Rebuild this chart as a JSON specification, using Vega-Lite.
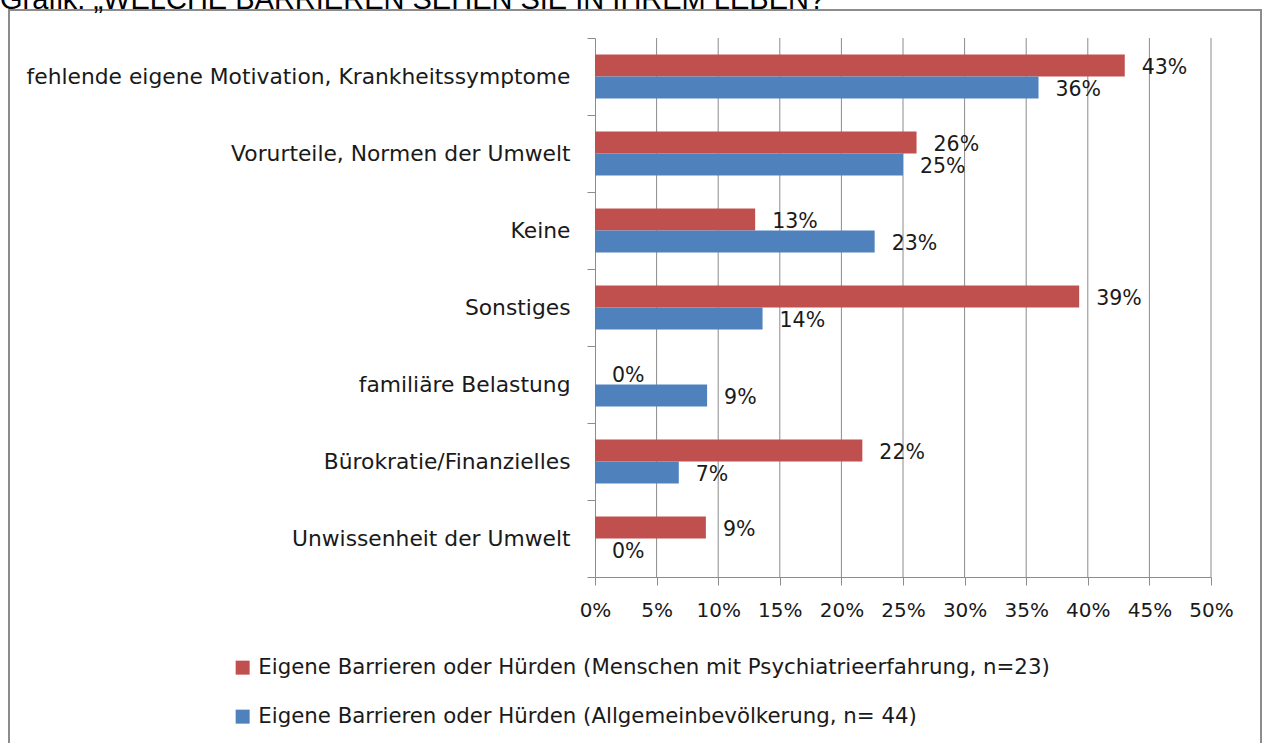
{
  "$schema": "https://vega.github.io/schema/vega-lite/v6.json",
  "width": 1252,
  "height": 745,
  "autosize": "none",
  "padding": {"left": 9, "top": 10, "right": 3, "bottom": 0},
  "background": "white",
  "title": {
    "text": "Grafik: „WELCHE BARRIEREN SEHEN SIE IN IHREM LEBEN?",
    "anchor": "start",
    "frame": "group",
    "dx": -9,
    "offset": -15,
    "font": "Liberation Sans",
    "fontSize": 29,
    "fontWeight": "normal",
    "color": "#000000"
  },
  "config": {
    "view": {"stroke": "#8c8c8c", "strokeWidth": 2},
    "font": "DejaVu Sans",
    "text": {"color": "#1a1a1a"},
    "axisX": {
      "offset": -178,
      "grid": false,
      "domainColor": "#8c8c8c",
      "tickColor": "#8c8c8c",
      "tickSize": 8,
      "labelPadding": 15,
      "labelFontSize": 20,
      "labelColor": "#1a1a1a",
      "labelFont": "DejaVu Sans",
      "labelOverlap": false,
      "labelFlush": false
    },
    "axisY": {
      "offset": -586,
      "grid": false,
      "domainColor": "#8c8c8c",
      "tickColor": "#8c8c8c",
      "tickSize": 8,
      "labelPadding": 17,
      "labelFontSize": 21.8,
      "labelColor": "#1a1a1a",
      "labelFont": "DejaVu Sans",
      "labelLimit": 600,
      "labelOverlap": false
    }
  },
  "datasets": {
    "bars": [
      {"category": "fehlende eigene Motivation, Krankheitssymptome", "series": "Eigene Barrieren oder Hürden (Menschen mit Psychiatrieerfahrung, n=23)", "value": 0.43},
      {"category": "fehlende eigene Motivation, Krankheitssymptome", "series": "Eigene Barrieren oder Hürden (Allgemeinbevölkerung, n= 44)", "value": 0.36},
      {"category": "Vorurteile, Normen der Umwelt", "series": "Eigene Barrieren oder Hürden (Menschen mit Psychiatrieerfahrung, n=23)", "value": 0.261},
      {"category": "Vorurteile, Normen der Umwelt", "series": "Eigene Barrieren oder Hürden (Allgemeinbevölkerung, n= 44)", "value": 0.25},
      {"category": "Keine", "series": "Eigene Barrieren oder Hürden (Menschen mit Psychiatrieerfahrung, n=23)", "value": 0.13},
      {"category": "Keine", "series": "Eigene Barrieren oder Hürden (Allgemeinbevölkerung, n= 44)", "value": 0.227},
      {"category": "Sonstiges", "series": "Eigene Barrieren oder Hürden (Menschen mit Psychiatrieerfahrung, n=23)", "value": 0.393},
      {"category": "Sonstiges", "series": "Eigene Barrieren oder Hürden (Allgemeinbevölkerung, n= 44)", "value": 0.136},
      {"category": "familiäre Belastung", "series": "Eigene Barrieren oder Hürden (Menschen mit Psychiatrieerfahrung, n=23)", "value": 0},
      {"category": "familiäre Belastung", "series": "Eigene Barrieren oder Hürden (Allgemeinbevölkerung, n= 44)", "value": 0.091},
      {"category": "Bürokratie/Finanzielles", "series": "Eigene Barrieren oder Hürden (Menschen mit Psychiatrieerfahrung, n=23)", "value": 0.217},
      {"category": "Bürokratie/Finanzielles", "series": "Eigene Barrieren oder Hürden (Allgemeinbevölkerung, n= 44)", "value": 0.068},
      {"category": "Unwissenheit der Umwelt", "series": "Eigene Barrieren oder Hürden (Menschen mit Psychiatrieerfahrung, n=23)", "value": 0.09},
      {"category": "Unwissenheit der Umwelt", "series": "Eigene Barrieren oder Hürden (Allgemeinbevölkerung, n= 44)", "value": 0}
    ],
    "grid": [
      {"value": 0.05}, {"value": 0.1}, {"value": 0.15}, {"value": 0.2}, {"value": 0.25},
      {"value": 0.3}, {"value": 0.35}, {"value": 0.4}, {"value": 0.45}, {"value": 0.5}
    ]
  },
  "layer": [
    {
      "data": {"name": "grid"},
      "mark": {"type": "rule", "color": "#8c8c8c", "strokeWidth": 1},
      "encoding": {
        "x": {"field": "value", "type": "quantitative", "axis": {"title": null, "values": [0, 0.05, 0.1, 0.15, 0.2, 0.25, 0.3, 0.35, 0.4, 0.45, 0.5], "format": ".0%"}},
        "y": {"datum": "fehlende eigene Motivation, Krankheitssymptome", "type": "nominal", "bandPosition": 0, "axis": {"title": null, "tickBand": "extent"}},
        "y2": {"datum": "Unwissenheit der Umwelt", "bandPosition": 1}
      }
    },
    {
      "data": {"name": "bars"},
      "mark": {"type": "bar"},
      "encoding": {
        "x": {
          "field": "value",
          "type": "quantitative",
          "scale": {"domain": [0, 0.5], "range": [586, 1202], "nice": false, "zero": true},
          "axis": {"title": null, "values": [0, 0.05, 0.1, 0.15, 0.2, 0.25, 0.3, 0.35, 0.4, 0.45, 0.5], "format": ".0%"}
        },
        "y": {
          "field": "category",
          "type": "nominal",
          "scale": {
            "domain": ["fehlende eigene Motivation, Krankheitssymptome", "Vorurteile, Normen der Umwelt", "Keine", "Sonstiges", "familiäre Belastung", "Bürokratie/Finanzielles", "Unwissenheit der Umwelt"],
            "range": [28, 567],
            "paddingInner": 0,
            "paddingOuter": 0
          },
          "axis": {"title": null, "tickBand": "extent"}
        },
        "yOffset": {
          "field": "series",
          "type": "nominal",
          "scale": {
            "domain": ["Eigene Barrieren oder Hürden (Menschen mit Psychiatrieerfahrung, n=23)", "Eigene Barrieren oder Hürden (Allgemeinbevölkerung, n= 44)"],
            "paddingInner": 0,
            "paddingOuter": 0.75
          }
        },
        "color": {
          "field": "series",
          "type": "nominal",
          "scale": {
            "domain": ["Eigene Barrieren oder Hürden (Menschen mit Psychiatrieerfahrung, n=23)", "Eigene Barrieren oder Hürden (Allgemeinbevölkerung, n= 44)"],
            "range": ["#C0504D", "#4F81BD"]
          },
          "legend": {
            "title": null,
            "orient": "none",
            "legendX": 223,
            "legendY": 647,
            "direction": "vertical",
            "symbolType": "square",
            "symbolSize": 196,
            "symbolStrokeWidth": 0,
            "labelFontSize": 21.3,
            "labelFont": "DejaVu Sans",
            "labelColor": "#1a1a1a",
            "labelOffset": 5,
            "labelLimit": 1000,
            "rowPadding": 27,
            "padding": 0
          }
        }
      }
    },
    {
      "data": {"name": "bars"},
      "mark": {"type": "text", "align": "left", "baseline": "middle", "dx": 17, "dy": 2, "fontSize": 20.5},
      "encoding": {
        "x": {"field": "value", "type": "quantitative", "axis": {"title": null, "values": [0, 0.05, 0.1, 0.15, 0.2, 0.25, 0.3, 0.35, 0.4, 0.45, 0.5], "format": ".0%"}},
        "y": {"field": "category", "type": "nominal", "axis": {"title": null, "tickBand": "extent"}},
        "yOffset": {"field": "series", "type": "nominal"},
        "text": {"field": "value", "type": "quantitative", "format": ".0%"}
      }
    }
  ]
}
